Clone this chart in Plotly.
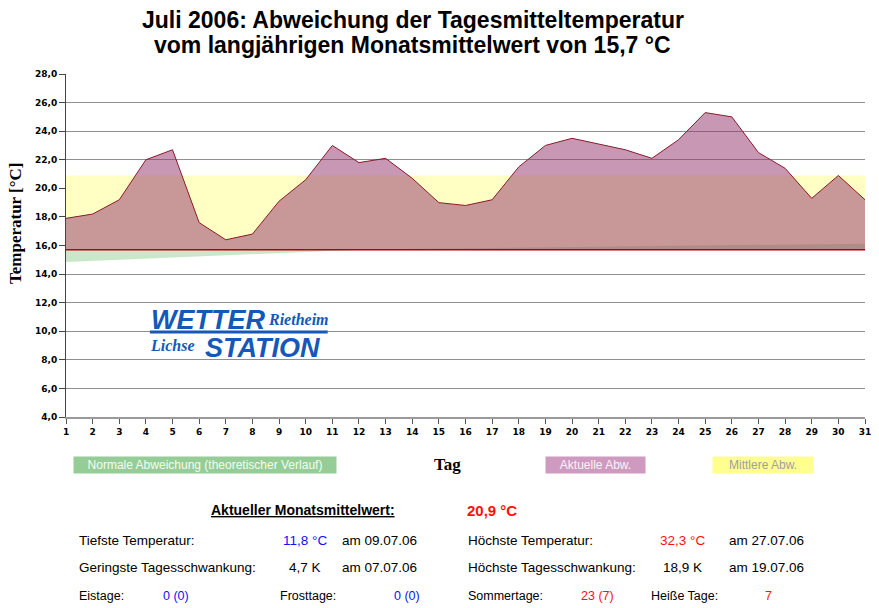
"""
Juli 2006: Abweichung der Tagesmitteltemperatur vom langjaehrigen Monatsmittel
"""

import plotly.graph_objects as go

# ------------------------------------------------------------------------------
# Daten
# ------------------------------------------------------------------------------
tage = list(range(1, 32))

tagesmittel = [17.9, 18.2, 19.2, 22.0, 22.7, 17.6, 16.4, 16.8, 19.1, 20.6,
               23.0, 21.8, 22.1, 20.7, 19.0, 18.8, 19.2, 21.5, 23.0, 23.5,
               23.1, 22.7, 22.1, 23.4, 25.3, 25.0, 22.5, 21.4, 19.3, 20.9,
               19.2]

# theoretischer Verlauf (normale Abweichung)
normal_verlauf = [14.85, 14.93, 15.01, 15.09, 15.17, 15.25, 15.33, 15.41, 15.49, 15.56,
                  15.63, 15.70, 15.73, 15.76, 15.79, 15.82, 15.84, 15.86, 15.88, 15.90,
                  15.92, 15.94, 15.96, 15.98, 16.00, 16.02, 16.04, 16.06, 16.08, 16.10,
                  16.12]

langj_mittel = 15.7
monats_mittel = 20.9

y_ticks = [4, 6, 8, 10, 12, 14, 16, 18, 20, 22, 24, 26, 28]

# Statistik unten
stat_zeile1 = [("Tiefste Temperatur:", "black"), ("11,8 °C", "#1010ff"), ("am 09.07.06", "black"),
               ("Höchste Temperatur:", "black"), ("32,3 °C", "#ff1010"), ("am 27.07.06", "black")]
stat_zeile2 = [("Geringste Tagesschwankung:", "black"), ("4,7 K", "black"), ("am 07.07.06", "black"),
               ("Höchste Tagesschwankung:", "black"), ("18,9 K", "black"), ("am 19.07.06", "black")]
stat_zeile3 = [("Eistage:", "black"), ("0 (0)", "#1010ff"), ("Frosttage:", "black"), ("0 (0)", "#1010ff"),
               ("Sommertage:", "black"), ("23 (7)", "#ff1010"), ("Heiße Tage:", "black"), ("7", "#ff1010")]

# ------------------------------------------------------------------------------
# Layout-Geometrie (Pixel)
# ------------------------------------------------------------------------------
W, H = 879, 608
ML, MR, MT, MB = 66, 8, 74, 191
PW, PH = 800, H - MT - MB


def px(x, y):
    """Pixel -> paper Koordinaten"""
    return (x - ML) / PW, (H - MB - y) / PH


fig = go.Figure()

base = [langj_mittel] * len(tage)

# Mittlere Abweichung (gelb)
fig.add_trace(go.Scatter(x=tage, y=base, mode='lines', line=dict(width=0),
                         showlegend=False, hoverinfo='skip'))
fig.add_trace(go.Scatter(x=tage, y=[monats_mittel] * len(tage), mode='lines',
                         line=dict(width=0), fill='tonexty', fillcolor='#ffffc4',
                         showlegend=False, hoverinfo='skip'))

# Normale Abweichung (gruen)
fig.add_trace(go.Scatter(x=tage, y=base, mode='lines', line=dict(width=0),
                         showlegend=False, hoverinfo='skip'))
fig.add_trace(go.Scatter(x=tage, y=normal_verlauf, mode='lines', line=dict(width=0),
                         fill='tonexty', fillcolor='rgba(100,190,100,0.35)',
                         showlegend=False, hoverinfo='skip'))

# Aktuelle Abweichung (lila)
fig.add_trace(go.Scatter(x=tage, y=base, mode='lines', line=dict(width=0),
                         showlegend=False, hoverinfo='skip'))
fig.add_trace(go.Scatter(x=tage, y=tagesmittel, mode='lines',
                         line=dict(color='#8b1a2a', width=1),
                         fill='tonexty', fillcolor='rgba(150,55,112,0.52)',
                         showlegend=False))

# langjaehriges Mittel (rote Linie)
fig.add_trace(go.Scatter(x=tage, y=base, mode='lines',
                         line=dict(color='#b00010', width=1.6),
                         showlegend=False, hoverinfo='skip'))

# ------------------------------------------------------------------------------
# Achsen
# ------------------------------------------------------------------------------
tick_font = dict(family='DejaVu Sans', size=9, color='black', weight='bold')

fig.update_xaxes(range=[1, 31], tickmode='array', tickvals=tage, ticks='outside',
                 ticklen=5, tickcolor='#555', showgrid=False, showline=True,
                 linecolor='#9a9a9a', linewidth=1.5, tickfont=tick_font, zeroline=False)
fig.update_yaxes(range=[4, 28], tickmode='array', tickvals=y_ticks, tickformat='.1f',
                 ticks='outside', ticklen=6, tickcolor='#444', showgrid=True,
                 gridcolor='#8f8f8f', gridwidth=1, showline=True, linecolor='#444',
                 linewidth=1, tickfont=tick_font, zeroline=False)

# ------------------------------------------------------------------------------
# Texte
# ------------------------------------------------------------------------------
ann = []


def text(txt, x_px, y_px, font, xanchor='left', **kw):
    x, y = px(x_px, y_px)
    ann.append(dict(x=x, y=y, xref='paper', yref='paper', text=txt, showarrow=False,
                    xanchor=xanchor, yanchor='middle', font=font, **kw))


# Titel
title_font = dict(family='Liberation Sans', size=23, color='black', weight='bold')
text('Juli 2006: Abweichung der Tagesmitteltemperatur', 413, 20, title_font, 'center')
text('vom langjährigen Monatsmittelwert von 15,7 °C', 413, 45, title_font, 'center')

# Achsentitel
axis_font = dict(family='Liberation Serif', size=17, color='black', weight='bold')
text('Temperatur [°C]', 15, 223, axis_font, 'center', textangle=-90)
text('Tag', 448, 464, axis_font, 'center')

# Legende
for label, cx, bg, fg, bw in [("Normale Abweichung (theoretischer Verlauf)", 205, '#96cd96', '#f4fbf4', 260),
                              ("Aktuelle Abw.", 596, '#cf9ac0', '#fbf2f8', 97),
                              ("Mittlere Abw.", 764, '#ffff90', '#a0a0a0', 98)]:
    text(label, cx, 465, dict(family='Liberation Sans', size=12, color=fg), 'center',
         bgcolor=bg, width=bw, height=14)

# Logo
logo_blau = '#1458b8'
for txt, lx, ly, fam, size in [("WETTER", 149, 320, 'Liberation Sans', 27),
                               ("Rietheim", 266, 319, 'Liberation Serif', 16),
                               ("Lichse", 148, 345, 'Liberation Serif', 16),
                               ("STATION", 203, 348, 'Liberation Sans', 27)]:
    text(txt, lx, ly, dict(family=fam, size=size, color=logo_blau, weight='bold', style='italic'))

# Monatsmittel
text('<u>Aktueller Monatsmittelwert:</u>', 209, 510,
     dict(family='Liberation Sans', size=14, color='black', weight='bold'))
text('20,9 °C', 465, 510, dict(family='Liberation Sans', size=15, color='#ff1010', weight='bold'))

for zeile, xs, ly, size in [(stat_zeile1, [77, 281, 340, 466, 659, 728], 540, 13.5),
                            (stat_zeile2, [77, 287, 340, 466, 662, 728], 567, 13.5),
                            (stat_zeile3, [77, 161, 278, 392, 466, 580, 650, 764], 596, 12.5)]:
    for (txt, col), lx in zip(zeile, xs):
        text(txt, lx, ly, dict(family='Liberation Sans', size=size, color=col))

# Logo-Balken
x0, y0 = px(150, 332)
x1, _ = px(328, 332)
shapes = [dict(type='line', xref='paper', yref='paper', x0=x0, x1=x1, y0=y0, y1=y0,
               line=dict(color=logo_blau, width=3))]

fig.update_layout(
    width=W, height=H,
    margin=dict(l=ML, r=MR, t=MT, b=MB),
    paper_bgcolor='white', plot_bgcolor='white',
    separators=',.',
    annotations=ann,
    shapes=shapes,
    showlegend=False,
)

fig.write_html("out.html", config={'displayModeBar': False},
               post_script="document.body.style.margin='0px';")
